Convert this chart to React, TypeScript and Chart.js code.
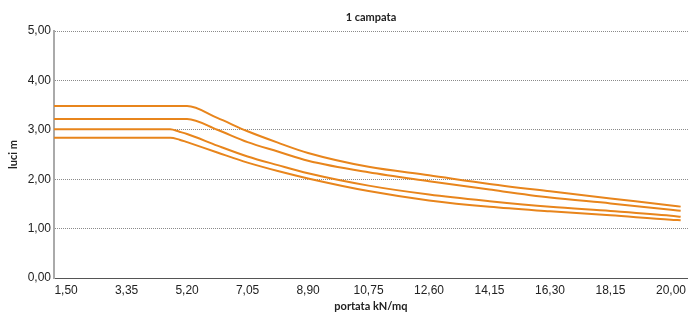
import React, { useEffect, useRef } from "react";
import { Chart, registerables } from "chart.js";

Chart.register(...registerables);

// Category tick labels of the x axis (portata kN/mq)
const xTickLabels = ["1,50", "3,35", "5,20", "7,05", "8,90", "10,75", "12,60", "14,15", "16,30", "18,15", "20,00"];
// Positions along the category axis (index units) where curves were sampled
const upperPos = [-0.2, 0, 1, 2, 2.5, 3, 3.5, 4, 5, 6, 7, 8, 9, 10, 10.16];
const lowerPos = [-0.2, 0, 1, 1.72, 1.875, 2, 2.5, 3, 3.5, 4, 5, 6, 7, 8, 9, 10, 10.16];
// luci m
const line1 = [3.48, 3.48, 3.48, 3.48, 3.24, 2.97, 2.74, 2.53, 2.25, 2.08, 1.905, 1.755, 1.61, 1.47, 1.445];
const line2 = [3.22, 3.22, 3.22, 3.22, 3.0, 2.75, 2.56, 2.375, 2.14, 1.96, 1.79, 1.63, 1.51, 1.38, 1.36];
const line3 = [3.01, 3.01, 3.01, 3.01, 2.96, 2.915, 2.68, 2.46, 2.285, 2.12, 1.87, 1.69, 1.555, 1.44, 1.355, 1.26, 1.24];
const line4 = [2.84, 2.84, 2.84, 2.84, 2.8, 2.75, 2.54, 2.335, 2.165, 2.015, 1.76, 1.57, 1.44, 1.35, 1.27, 1.18, 1.17];
const yTicks = [0, 1, 2, 3, 4, 5];

const ORANGE = "rgb(232,133,28)";
const TEXT = "#222";

const titlePlugin = {
  id: "topTitle",
  afterDraw(chart: any) {
    const { ctx, chartArea } = chart;
    ctx.save();
    ctx.font = "bold 11px Lato";
    ctx.fillStyle = TEXT;
    ctx.textAlign = "center";
    ctx.textBaseline = "middle";
    ctx.fillText("1 campata", (chartArea.left + chartArea.right) / 2, 17.5);
    ctx.restore();
  },
};

function mk(pos: number[], vals: number[]) {
  return pos.map((x, i) => ({ x, y: vals[i] }));
}

export default function App() {
  const ref = useRef<HTMLCanvasElement | null>(null);
  useEffect(() => {
    if (!ref.current) return;
    const ds = (data: any) => ({
      data,
      borderColor: ORANGE,
      borderWidth: 2,
      pointRadius: 0,
      fill: false,
      cubicInterpolationMode: "monotone",
    });
    const chart = new Chart(ref.current, {
      type: "line",
      data: {
        datasets: [ds(mk(upperPos, line1)), ds(mk(upperPos, line2)), ds(mk(lowerPos, line3)), ds(mk(lowerPos, line4))],
      },
      plugins: [titlePlugin],
      options: {
        animation: false,
        responsive: false,
        layout: { padding: { top: 31, left: 0, right: 0, bottom: 0 } },
        plugins: { legend: { display: false }, tooltip: { enabled: false }, title: { display: false } },
        scales: {
          x: {
            type: "linear",
            min: -0.2,
            max: 10.28,
            grid: { display: false, drawTicks: false },
            border: { display: true, color: "#555", width: 1 },
            afterBuildTicks: (s: any) => {
              s.ticks = xTickLabels.map((_, i) => ({ value: i }));
            },
            afterFit: (s: any) => {
              s.height = 38;
            },
            ticks: {
              autoSkip: false,
              maxRotation: 0,
              padding: 5,
              color: TEXT,
              font: { family: "Liberation Sans", size: 12 },
              callback: (v: any) => xTickLabels[Math.round(Number(v))] ?? "",
            },
            title: {
              display: true,
              text: "portata kN/mq",
              color: TEXT,
              font: { family: "Lato", size: 11, weight: "bold" },
              padding: { top: 0, bottom: 3 },
            },
          },
          y: {
            min: 0,
            max: 5,
            afterBuildTicks: (s: any) => {
              s.ticks = yTicks.map((v) => ({ value: v }));
            },
            afterFit: (s: any) => {
              s.width = 54;
            },
            grid: { display: true, drawTicks: false, color: "#8a8a8a", lineWidth: 1 },
            border: { display: true, color: "#aaa", width: 2, dash: [1, 1] },
            ticks: {
              padding: 3,
              color: TEXT,
              font: { family: "Liberation Sans", size: 12 },
              callback: (v: any) => Number(v).toFixed(2).replace(".", ","),
            },
            title: {
              display: true,
              text: "luci m",
              color: TEXT,
              font: { family: "Lato", size: 11, weight: "bold" },
              padding: { top: 7, bottom: 0 },
            },
          },
        },
      } as any,
    });
    return () => chart.destroy();
  }, []);
  return (
    <div style={{ position: "fixed", left: 0, top: 0, width: 691, height: 316, background: "#fff" }}>
      <canvas ref={ref} width={691} height={316} style={{ display: "block", width: 691, height: 316 }} />
    </div>
  );
}
